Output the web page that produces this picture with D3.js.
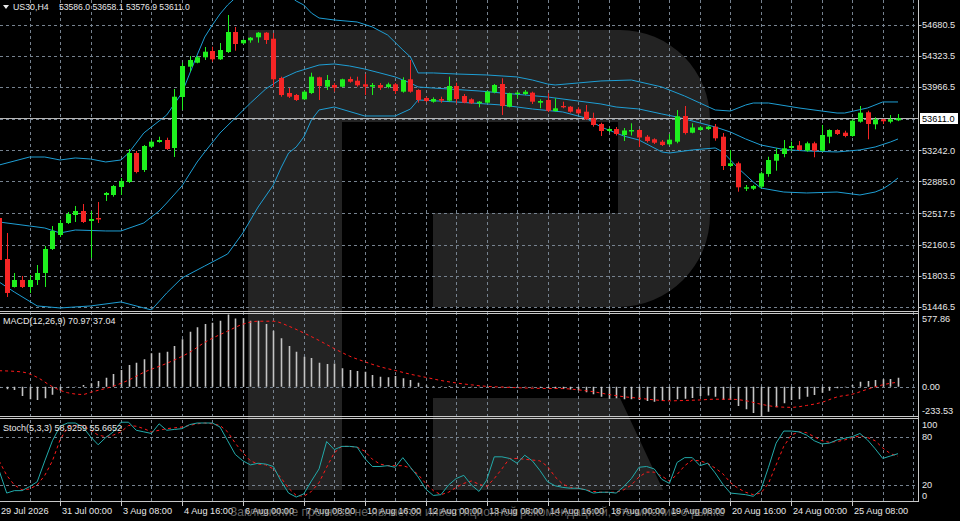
<!DOCTYPE html>
<html><head><meta charset="utf-8">
<script src="https://cdn.jsdelivr.net/npm/d3@7"></script>
<style>html,body{margin:0;padding:0;background:#000;overflow:hidden}svg{display:block}text{font-family:"Liberation Sans",Arial,sans-serif}</style>
</head><body><svg id="c" width="960" height="521"></svg>
<script>
const symbolTitle = "US30,H4";
const lastQuote = ["53586.0","53658.1","53576.9","53611.0"];
const lastPrice = 53611.0;
const priceTicks = ["54680.5","54323.5","53966.5","53242.0","52885.0","52517.5","52160.5","51803.5","51446.5"];
const timeLabels = ["29 Jul 2026","31 Jul 00:00","3 Aug 08:00","4 Aug 16:00","6 Aug 00:00","7 Aug 08:00","10 Aug 16:00","12 Aug 00:00","13 Aug 08:00","14 Aug 16:00","18 Aug 00:00","19 Aug 08:00","20 Aug 16:00","24 Aug 00:00","25 Aug 08:00"];
const timeLabelBars = [0,8,16,24,32,40,48,56,64,72,80,88,96,104,112];

const openP = [52464.9,51994.2,51672.7,51753.1,51672.7,51753.1,51833.5,52109.0,52269.7,52407.5,
52499.3,52545.2,52430.4,52464.9,52728.9,52728.9,52820.7,52878.1,53211.1,53016.0,
53283.5,53337.3,53360.3,53268.5,53854.0,54201.8,54247.7,54309.7,54382.0,54286.7,
54370.5,54600.1,54470.4,54504.8,54539.3,54592.1,54523.2,54072.1,53899.9,53876.9,
53827.5,53899.9,54080.1,53972.2,53991.7,53972.2,54060.6,54041.1,53999.7,53972.2,
53991.7,53968.7,53999.7,53914.8,54057.1,53934.3,53842.5,53800.0,53831.0,53811.5,
53980.2,53865.4,53827.5,53781.6,53788.5,53907.9,54003.2,53742.6,53888.4,53888.4,
53903.4,53788.5,53819.5,53693.2,53750.6,53742.6,53712.7,53685.2,53609.4,53544.0,
53463.6,53486.6,53417.7,53457.9,53475.1,53398.2,53368.3,53340.8,53311.0,53340.8,
53635.8,53444.1,53475.1,53486.6,53513.0,53398.2,53061.8,53092.8,52801.2,52801.2,
52824.2,52969.9,53122.7,53199.6,53268.5,53299.5,53237.5,53322.4,53237.5,53398.2,
53475.1,53444.1,53406.2,53570.4,53678.3,53540.5,53597.9,53570.4,53586.0];
const highP = [52499.3,52292.7,51833.5,51799.0,51810.5,51925.3,52143.4,52373.1,52442.0,52533.7,
52602.6,52625.6,52545.2,52648.5,52763.3,52843.7,52924.0,53257.0,53234.0,53302.9,
53360.3,53398.2,53386.7,53945.8,54247.7,54324.6,54324.6,54427.9,54431.4,54473.9,
54795.3,54657.5,54516.3,54542.7,54600.1,54600.1,54588.7,54087.0,53957.3,53888.4,
53926.3,54132.9,54087.0,54106.5,54014.7,54064.0,54087.0,54087.0,54118.0,54014.7,
54014.7,54018.1,54014.7,54080.1,54278.7,53942.4,53857.4,53850.5,53857.4,54087.0,
54018.1,53888.4,53839.0,53808.0,53926.3,54003.2,54068.6,53903.4,53914.8,53934.3,
53914.8,53827.5,53896.4,53839.0,53800.0,53750.6,53735.7,53762.1,53673.7,53558.9,
53498.1,53509.5,53498.1,53552.0,53486.6,53417.7,53379.8,53360.3,53429.2,53704.7,
53750.6,53552.0,53521.0,53521.0,53544.0,53440.7,53245.5,53111.2,52843.7,52843.7,
52996.0,53168.6,53265.0,53360.3,53340.8,53348.8,53340.8,53340.8,53532.5,53483.1,
53483.1,53467.1,53597.9,53750.6,53696.7,53620.9,53604.8,53647.3,53658.1];
const lowP = [51959.7,51557.9,51667.0,51661.0,51603.9,51695.7,51672.7,52097.5,52246.7,52396.0,
52419.0,52407.5,52005.7,52407.5,52660.0,52709.4,52728.9,52866.6,52977.8,52992.9,
53268.5,53329.3,53245.5,53165.1,53704.7,54144.4,54240.8,54278.7,54259.2,54278.7,
54359.1,54385.5,54462.4,54477.3,54477.3,54462.4,53972.2,53857.4,53842.5,53808.0,
53819.5,53888.4,53819.5,53934.3,53914.8,53965.3,54018.1,53972.2,53876.9,53876.9,
53934.3,53953.8,53888.4,53903.4,53903.4,53788.5,53796.5,53788.5,53788.5,53800.0,
53781.6,53781.6,53773.6,53735.7,53781.6,53896.4,53647.3,53735.7,53839.0,53876.9,
53773.6,53724.2,53681.7,53685.2,53724.2,53673.7,53658.8,53589.9,53513.0,53406.2,
53452.1,53412.0,53348.8,53412.0,53280.0,53331.6,53314.4,53291.4,53297.2,53322.4,
53423.5,53437.2,53467.1,53475.1,53352.3,53016.0,53046.9,52766.8,52774.8,52786.3,
52805.8,52938.9,53007.9,53161.7,53237.5,53237.5,53226.0,53161.7,53226.0,53322.4,
53417.7,53391.3,53398.2,53558.9,53368.3,53483.1,53544.0,53552.0,53576.9];
const closeP = [51982.7,51603.9,51753.1,51672.7,51753.1,51833.5,52109.0,52315.7,52407.5,52510.8,
52545.2,52419.0,52453.4,52447.7,52751.9,52832.2,52889.6,53211.1,52992.9,53291.4,
53340.8,53360.3,53257.0,53857.4,54209.8,54278.7,54309.7,54374.0,54286.7,54393.5,
54600.1,54462.4,54508.3,54534.7,54592.1,54508.3,54057.1,53876.9,53857.4,53819.5,
53914.8,54087.0,53980.2,54049.1,53960.7,54057.1,54029.6,53988.3,53972.2,53991.7,
53960.7,53999.7,53922.8,54049.1,53914.8,53819.5,53808.0,53831.0,53811.5,53980.2,
53831.0,53788.5,53781.6,53800.0,53914.8,53991.7,53750.6,53896.4,53903.4,53914.8,
53800.0,53808.0,53696.7,53724.2,53735.7,53685.2,53666.8,53597.9,53532.5,53463.6,
53486.6,53429.2,53469.4,53475.1,53389.0,53348.8,53329.3,53302.9,53363.7,53632.4,
53440.7,53503.8,53506.1,53513.0,53379.8,53061.8,53092.8,52817.3,52817.3,52832.2,
52977.8,53130.7,53199.6,53265.0,53291.4,53245.5,53322.4,53237.5,53417.7,53475.1,
53429.2,53406.2,53581.9,53673.7,53544.0,53597.9,53575.0,53597.9,53611.0];

// Bollinger bands as [bar, price]
const bbUpper = [[0,53073],[4,53165],[6,53165],[8,53131],[10,53154],[12,53142],[14,53108],[16,53131],[17,53211],[19,53441],[22,53647],[24,53900],[26,54336],[27,54543],[28,54681],[29,54807],[30,54910],[31,54991],[33,55082],[35,55117],[37,55082],[38,55025],[39,54956],[40,54910],[41,54818],[42,54761],[44,54738],[47,54715],[49,54658],[51,54566],[53,54394],[54,54313],[55,54130],[57,54130],[60,54118],[64,54107],[68,54084],[70,54049],[72,54003],[73,53992],[76,54015],[79,54038],[83,54049],[87,53969],[90,53865],[92,53785],[94,53705],[96,53693],[98,53762],[99,53785],[101,53785],[105,53728],[108,53693],[110,53670],[111,53670],[114,53728],[116,53797],[118,53797]];
const bbMiddle = [[0,52419],[4,52373],[6,52350],[8,52293],[10,52327],[14,52316],[16,52316],[19,52408],[21,52545],[22,52637],[24,52832],[26,53108],[27,53223],[29,53441],[31,53613],[33,53785],[35,53946],[37,54061],[39,54141],[42,54221],[44,54233],[46,54210],[48,54175],[50,54130],[52,54084],[54,54015],[55,53969],[57,53957],[63,53923],[69,53877],[72,53854],[76,53808],[79,53774],[81,53739],[84,53716],[87,53659],[89,53624],[92,53556],[94,53510],[96,53452],[98,53372],[100,53303],[103,53251],[106,53234],[110,53223],[113,53246],[115,53280],[117,53337],[118,53372]];
const bbLower = [[0,51730],[2,51615],[5,51455],[8,51432],[12,51455],[16,51501],[19,51432],[20,51409],[22,51604],[24,51776],[27,51914],[30,52052],[32,52293],[34,52591],[36,52844],[37,53039],[38,53211],[39,53280],[40,53395],[41,53590],[42,53705],[44,53739],[48,53636],[52,53636],[54,53716],[55,53820],[60,53797],[66,53762],[70,53716],[74,53682],[77,53613],[79,53510],[82,53406],[84,53360],[87,53223],[88,53211],[91,53246],[94,53269],[95,53223],[96,53131],[97,53039],[99,52878],[100,52809],[103,52763],[106,52752],[110,52763],[113,52729],[115,52763],[116,52798],[117,52855],[118,52924]];

const macdMain = [-10,-21,-27,-75,-101,-107,-93,-65,-30,-8,
2,13,27,45,72,101,133,173,192,219,
267,272,280,326,379,440,475,502,512,528,
577.86,545,548,528,528,502,448,387,326,280,
240,230,192,181,185,147,133,125,120,93,
80,75,85,67,53,32,10,5,3,5,
3,-2,-5,-5,-3,0,-3,-5,-3,-3,
-5,-8,-13,-15,-18,-22,-28,-45,-60,-80,
-97,-93,-101,-101,-107,-114,-120,-113,-106,-101,
-97,-90,-74,-70,-80,-104,-107,-155,-180,-210,
-233.53,-200,-165,-133,-107,-101,-80,-67,-48,-32,
-13,-5,13,40,45,53,59,61,70.97];
const macdSignal = [[0,128],[3,118],[5,75],[7,0],[9,-48],[11,-62],[12,-45],[15,5],[17,53],[19,115],[22,187],[25,275],[27,355],[30,445],[32,500],[34,524],[36,524],[38,485],[40,430],[42,370],[44,305],[46,245],[48,200],[50,160],[52,130],[54,100],[56,75],[58,50],[60,30],[62,15],[64,3],[66,-3],[68,-8],[70,-12],[72,-14],[74,-15],[76,-25],[78,-40],[80,-62],[82,-80],[84,-92],[86,-105],[88,-113],[90,-110],[92,-106],[94,-100],[96,-100],[98,-112],[100,-140],[102,-160],[104,-165],[106,-150],[108,-125],[110,-82],[112,-60],[114,-20],[116,15],[118,37.04]];
const macdTicks = ["577.86","0.00","-233.53"];

const stochMain = [38,10,13,13,18,24,50,75,93,97,
97,92,80,70,79,86,98,98,88,86,
84,96,88,89,90,95,97,97,97,92,
75,58,50,45,47,46,43,25,10,5,
9,25,40,74,64,68,68,67,53,43,
43,44,42,54,42,30,15,7,8,20,
28,32,20,12,26,55,55,53,47,57,
50,38,24,19,17,16,16,14,10,11,
11,10,18,28,42,43,40,27,22,48,
54,54,44,47,35,21,10,9,8,6,
14,42,72,87,87,86,82,75,71,72,
76,78,80,84,76,65,53,56,58.9259];
const stochSignal = [50,32,20,14,15,20,32,50,76,92,
94,94,88,82,80,82,86,94,93,90,
86,88,90,91,92,94,96,97,96,94,
86,72,60,50,46,45,40,29,16,7,
6,12,23,42,60,68,68,67,62,52,
46,44,44,44,41,33,22,13,8,11,
17,22,25,21,18,28,40,53,53,52,
51,50,43,30,21,17,16,14,12,11,
11,11,14,20,30,36,36,31,25,33,
44,51,50,47,41,34,23,16,11,8,
10,22,45,68,82,86,85,80,75,73,
74,76,79,81,79,75,66,59,55.6652];
const stochTicks = [100,80,20,0];
const watermarkText = "Заключение прогноза не является инвестиционной рекомендацией, это мнение о рынке";

// ---------- drawing ----------
const svg = d3.select("#c");
const C = {bg:"#000", wm:"#232323", grid:"#76828f", bull:"#1ef01e", bear:"#f52525", band:"#1e9ed4",
  text:"#e8e8e8", frame:"#c8c8c8", sig:"#ff1a1a", stoch:"#22aaaa", hist:"#c4c4c4", price:"#b8b8b8"};
const axisX = 918.5;
const x = d3.scaleLinear().domain([0,118]).range([-0.9,898]);
const yP = d3.scaleLinear().domain([51446.5,54680.5]).range([306.7,25]);
const yM = d3.scaleLinear().domain([-233.53,577.86]).range([415.9,314.5]);
const yS = d3.scaleLinear().domain([0,100]).range([501.1,420.6]);
const px = i => Math.round(x(i));

svg.append("rect").attr("width",960).attr("height",521).attr("fill",C.bg);
const defs = svg.append("defs");
[["cMain",0,0,axisX,310.5],["cMacd",0,314,axisX,102],["cSto",0,419.5,axisX,81.5]].forEach(([id,a,b,w,h])=>{
  defs.append("clipPath").attr("id",id).append("rect").attr("x",a).attr("y",b).attr("width",w).attr("height",h);
});

// watermark logo
svg.append("path").attr("fill",C.wm)
  .attr("d","M248,30 H620 A90,90 0 0 1 710,120 V215 A92,92 0 0 1 618,307 H433 V213 H618 V122 H342 V490 H248 Z");
svg.append("path").attr("fill",C.wm).attr("d","M433,398 H620 L663,490 H433 Z");

// grid
const g = svg.append("g").attr("stroke",C.grid).attr("stroke-width",1).attr("stroke-dasharray","3,3").attr("fill","none");
d3.range(4,121,4).forEach(i=>{
  const xx = px(i)+0.5;
  g.append("line").attr("x1",xx).attr("x2",xx).attr("y1",0).attr("y2",501);
});
priceTicks.map(Number).concat([53604]).forEach(v=>{
  const yy = Math.round(yP(v))+0.5;
  g.append("line").attr("x1",0).attr("x2",axisX).attr("y1",yy).attr("y2",yy);
});
[0].forEach(v=>{const yy=Math.round(yM(v))+0.5; g.append("line").attr("x1",0).attr("x2",axisX).attr("y1",yy).attr("y2",yy);});
[80,20].forEach(v=>{const yy=Math.round(yS(v))+0.5; g.append("line").attr("x1",0).attr("x2",axisX).attr("y1",yy).attr("y2",yy);});

// main pane
const main = svg.append("g").attr("clip-path","url(#cMain)");
const bandLine = d3.line().x(d=>x(d[0])).y(d=>yP(d[1]));
[bbUpper,bbMiddle,bbLower].forEach(b=>{
  main.append("path").attr("d",bandLine(b)).attr("fill","none").attr("stroke",C.band).attr("stroke-width",1);
});
const yLast = Math.round(yP(lastPrice))+0.5;
main.append("line").attr("x1",0).attr("x2",axisX).attr("y1",yLast).attr("y2",yLast).attr("stroke",C.price).attr("stroke-width",1);
const candles = main.selectAll("g.c").data(d3.range(openP.length)).join("g");
candles.each(function(i){
  const gg = d3.select(this);
  const up = closeP[i] >= openP[i];
  const col = up ? C.bull : C.bear;
  const cx = px(i);
  gg.append("line").attr("x1",cx+0.5).attr("x2",cx+0.5).attr("y1",yP(highP[i])).attr("y2",yP(lowP[i])).attr("stroke",col).attr("stroke-width",1);
  const y1 = yP(Math.max(openP[i],closeP[i])), y2 = yP(Math.min(openP[i],closeP[i]));
  gg.append("rect").attr("x",cx-2).attr("width",5).attr("y",y1).attr("height",Math.max(1.2,y2-y1)).attr("fill",col);
});

// MACD pane
const mg = svg.append("g").attr("clip-path","url(#cMacd)");
macdMain.forEach((v,i)=>{
  const cx = px(i)+0.5;
  mg.append("line").attr("x1",cx).attr("x2",cx).attr("y1",yM(0)).attr("y2",yM(v)).attr("stroke",C.hist).attr("stroke-width",1.6);
});
mg.append("path").attr("d",d3.line().x(d=>x(d[0])).y(d=>yM(d[1])).curve(d3.curveMonotoneX)(macdSignal))
  .attr("fill","none").attr("stroke",C.sig).attr("stroke-width",1).attr("stroke-dasharray","3,3");

// Stochastic pane
const sg = svg.append("g").attr("clip-path","url(#cSto)");
sg.append("path").attr("d",d3.line().x((d,i)=>x(i)).y(d=>yS(d))(stochSignal))
  .attr("fill","none").attr("stroke",C.sig).attr("stroke-width",1).attr("stroke-dasharray","3,3");
sg.append("path").attr("d",d3.line().x((d,i)=>x(i)).y(d=>yS(d))(stochMain))
  .attr("fill","none").attr("stroke",C.stoch).attr("stroke-width",1);

// separators and frame
const fr = svg.append("g").attr("stroke",C.frame).attr("stroke-width",1);
[311.5,313.5,416.5,418.5].forEach(yy=>fr.append("line").attr("x1",0).attr("x2",axisX).attr("y1",yy).attr("y2",yy));
fr.append("line").attr("x1",axisX).attr("x2",axisX).attr("y1",0).attr("y2",502);
fr.append("line").attr("x1",0).attr("x2",axisX).attr("y1",501.5).attr("y2",501.5);

// right axis labels
const lab = svg.append("g").attr("fill",C.text).attr("font-size","9.2px");
priceTicks.forEach(t=>{
  const yy = yP(+t);
  fr.append("line").attr("x1",axisX).attr("x2",axisX+3).attr("y1",Math.round(yy)+0.5).attr("y2",Math.round(yy)+0.5);
  lab.append("text").attr("x",922).attr("y",yy+3.3).text(t);
});
svg.append("rect").attr("x",920).attr("y",yLast-5.5).attr("width",38).attr("height",11).attr("fill","#ffffff");
svg.append("text").attr("x",922).attr("y",yLast+3.3).attr("font-size","9.2px").attr("fill","#000").text(lastPrice.toFixed(1));
[[macdTicks[0],yM(+macdTicks[0])+4.5],[macdTicks[1],yM(0)],[macdTicks[2],yM(+macdTicks[2])-5.5]].forEach(([t,yy])=>{
  lab.append("text").attr("x",922).attr("y",yy+3.3).text(t);
});
stochTicks.forEach(v=>{
  let yy = yS(v);
  if (v===100) yy += 4.4; if (v===0) yy -= 5.4;
  lab.append("text").attr("x",922).attr("y",yy+3.3).text(v);
});

// time axis
timeLabels.forEach((t,k)=>{
  const xx = px(timeLabelBars[k])+0.5;
  fr.append("line").attr("x1",xx).attr("x2",xx).attr("y1",502).attr("y2",506);
  lab.append("text").attr("x",xx+1.5).attr("y",514).text(t);
});

// header & indicator titles
svg.append("path").attr("d","M3,5 L9,5 L6,9 Z").attr("fill",C.text);
svg.append("text").attr("x",13).attr("y",10).attr("font-size","8.8px").attr("fill",C.text).text(symbolTitle);
svg.append("text").attr("x",59).attr("y",10).attr("font-size","8.6px").attr("fill",C.text).text(lastQuote.join(" "));
svg.append("text").attr("x",3).attr("y",324).attr("font-size","9px").attr("fill",C.text)
  .text(`MACD(12,26,9) ${macdMain[macdMain.length-1].toFixed(2)} ${macdSignal[macdSignal.length-1][1].toFixed(2)}`);
svg.append("text").attr("x",3).attr("y",430.5).attr("font-size","9px").attr("fill",C.text)
  .text(`Stoch(5,3,3) ${stochMain[stochMain.length-1].toFixed(4)} ${stochSignal[stochSignal.length-1].toFixed(4)}`);

// watermark caption (semi-transparent overlay across the time axis, as in the reference)
svg.append("text").attr("x",230).attr("y",516).attr("font-size","13px").attr("fill","#8c8c8c").attr("opacity",0.7)
  .attr("textLength",495).attr("lengthAdjust","spacingAndGlyphs").text(watermarkText);
</script></body></html>
